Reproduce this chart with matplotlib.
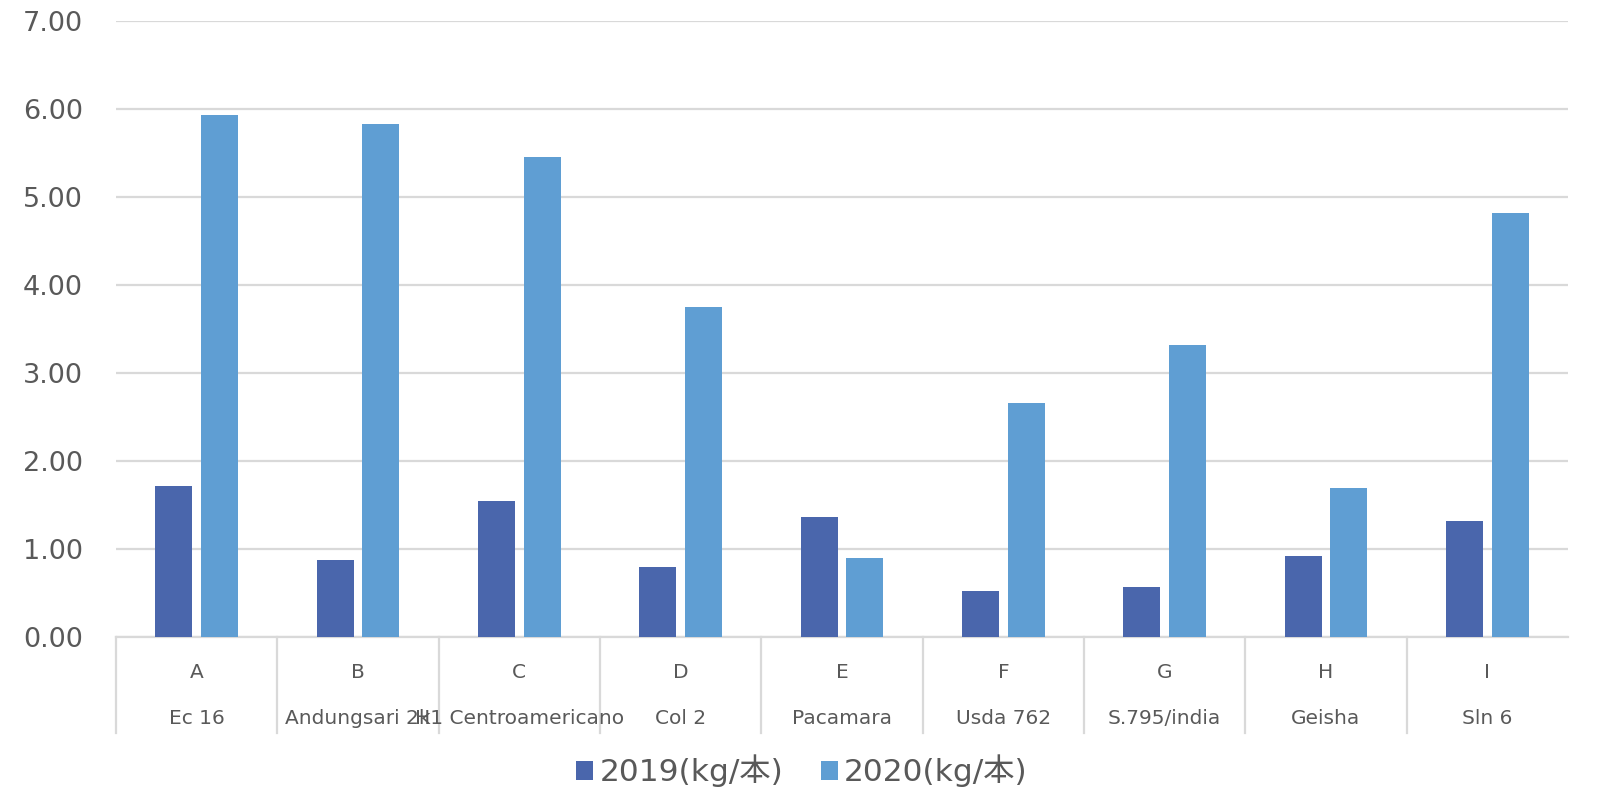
import matplotlib
matplotlib.use("Agg")
import matplotlib.pyplot as plt
import matplotlib.transforms as mtransforms
import numpy as np

plt.rcParams['font.family'] = ['DejaVu Sans', 'Noto Sans CJK JP']

letters = ["A", "B", "C", "D", "E", "F", "G", "H", "I"]
varieties = ["Ec 16", "Andungsari 2k", "H1 Centroamericano", "Col 2", "Pacamara",
             "Usda 762", "S.795/india", "Geisha", "Sln 6"]
vals_2019 = [1.72, 0.88, 1.55, 0.80, 1.36, 0.52, 0.57, 0.92, 1.32]
vals_2020 = [5.93, 5.83, 5.45, 3.75, 0.90, 2.66, 3.32, 1.69, 4.82]
series_names = ["2019(kg/本)", "2020(kg/本)"]
yticks = [0, 1, 2, 3, 4, 5, 6, 7]

c2019 = "#4A66AC"
c2020 = "#5F9ED3"
txt = "#595959"
grid = "#D9D9D9"

fig = plt.figure(figsize=(16.02, 8.06), dpi=100)
ax = fig.add_axes([116/1602, (806-637)/806, (1568-116)/1602, 616/806])

x = np.arange(len(letters))
w = 0.23
off = 0.141
b1 = ax.bar(x - off, vals_2019, w, color=c2019, label=series_names[0], zorder=3)
b2 = ax.bar(x + off, vals_2020, w, color=c2020, label=series_names[1], zorder=3)

ax.set_xlim(-0.5, len(letters) - 0.5)
ax.set_ylim(0, 7)
ax.set_yticks(yticks)
ax.set_yticklabels([f"{v:.2f}" for v in yticks], fontsize=19.5, color=txt)
ax.tick_params(axis='y', length=0, pad=24)
ax.set_xticks([])
ax.yaxis.grid(True, color=grid, linewidth=1.6, zorder=0)
for s in ["top", "right", "left"]:
    ax.spines[s].set_visible(False)
ax.spines["bottom"].set_color(grid)
ax.spines["bottom"].set_linewidth(1.6)

trans = mtransforms.blended_transform_factory(ax.transData, ax.transAxes)
for i, (l, n) in enumerate(zip(letters, varieties)):
    ax.text(i, -35/616, l, transform=trans, ha="center", va="center",
            fontsize=14.5, color=txt)
    ax.text(i, -82/616, n, transform=trans, ha="center", va="center",
            fontsize=14.5, color=txt)
for b in np.arange(-0.5, len(letters) - 0.5, 1.0):
    ax.plot([b, b], [0, -96/616], transform=trans, color=grid, linewidth=1.6,
            clip_on=False)

leg = fig.legend(handles=[b1, b2], loc="center", bbox_to_anchor=(802/1602, 1 - 771/806),
                 ncol=2, frameon=False, fontsize=22.5, handlelength=0.55, handleheight=0.55,
                 handletextpad=0.2, columnspacing=1.2, labelcolor=txt)

fig.savefig("out.png", dpi=100)
